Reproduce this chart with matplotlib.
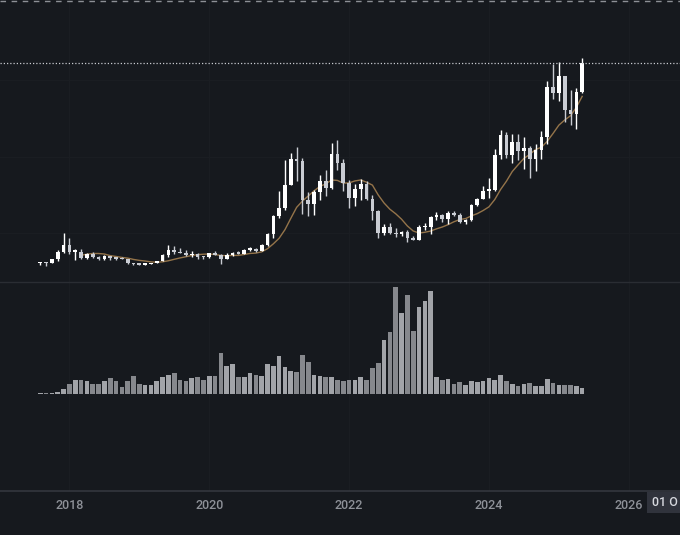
import matplotlib
matplotlib.use("Agg")
import matplotlib.pyplot as plt
from matplotlib.lines import Line2D
from matplotlib.patches import Rectangle
import numpy as np
import pandas as pd

# monthly candles, Aug 2017 .. May 2025 (last one still open)
months = pd.period_range("2017-08", "2025-05", freq="M")

opens = [4261, 4690, 4378, 6463, 9837,
         13715, 10285, 10325, 6922, 9246, 7500, 6391, 7735, 7011, 6626, 6369, 4041,
         3702, 3434, 3814, 4102, 5321, 8573, 10854, 10081, 9588, 8289, 9140, 7540,
         7195, 9351, 8523, 6412, 8620, 9448, 9138, 11335, 11649, 10776, 13791, 19695,
         28923, 33092, 45134, 58740, 57697, 37254, 35045, 41461, 47100, 43820, 61300, 56951,
         46216, 38466, 43160, 45510, 37630, 31802, 19942, 23297, 20048, 19422, 20491, 17165,
         16541, 23125, 23141, 28466, 29233, 27210, 30472, 29232, 25941, 26962, 34640, 37723,
         42283, 42580, 61131, 71280, 60672, 67540, 62772, 64629, 58974, 63327, 70215, 96407,
         93576, 102429, 84349, 82548, 94172]
highs = [4745, 4939, 6498, 11300, 19798,
         17176, 11786, 11704, 9759, 10020, 7786, 8491, 7750, 7410, 7680, 6615, 4313,
         4140, 4200, 4140, 5600, 9074, 13970, 13147, 12325, 10905, 10370, 9513, 7750,
         9578, 10500, 9188, 9460, 10067, 10380, 11444, 12468, 12050, 14100, 19863, 29300,
         41950, 58352, 61844, 64854, 59592, 41330, 42448, 50500, 52920, 67000, 69000, 59054,
         47990, 45821, 48190, 47444, 40023, 31982, 24668, 25211, 22799, 21085, 21480, 18387,
         23960, 25250, 29184, 30999, 29820, 31431, 31804, 30244, 27488, 35198, 38450, 44700,
         48969, 63913, 73777, 72797, 71979, 71948, 70079, 65659, 66498, 73620, 99588, 108353,
         109588, 102500, 95000, 95758, 111600]
lows = [3400, 2817, 4110, 5325, 9600,
        9035, 6000, 6600, 6430, 7032, 5750, 6070, 5880, 6111, 6205, 3652, 3156,
        3349, 3401, 3759, 4067, 5300, 7447, 9077, 9320, 7710, 7300, 6515, 6435,
        6871, 8445, 3782, 6150, 8117, 8833, 8893, 10518, 9825, 10374, 13195, 17572,
        28130, 32296, 44950, 47044, 30000, 28805, 29278, 37332, 39600, 43283, 53256, 42000,
        32917, 34322, 37155, 37578, 26700, 17622, 18782, 19520, 18125, 18190, 15476, 16256,
        16499, 21351, 19549, 26942, 25811, 24800, 28861, 25166, 24901, 26538, 34097, 37615,
        38555, 41884, 59005, 59191, 56552, 58402, 53485, 49000, 52550, 58946, 66835, 90500,
        89256, 78258, 76606, 74508, 93377]
closes = [4724, 4378, 6463, 9839, 13716,
          10285, 10326, 6923, 9246, 7494, 6391, 7730, 7011, 6626, 6371, 4041, 3742,
          3434, 3813, 4103, 5320, 8574, 10854, 10080, 9588, 8289, 9140, 7541, 7195,
          9352, 8523, 6410, 8620, 9448, 9138, 11335, 11649, 10776, 13791, 19695, 28923,
          33092, 45135, 58740, 57694, 37253, 35045, 41461, 47101, 43824, 61300, 56950, 46216,
          38466, 43160, 45510, 37630, 31801, 19942, 23293, 20050, 19423, 20490, 17164, 16542,
          23125, 23141, 28465, 29233, 27210, 30472, 29232, 25941, 26962, 34639, 37723, 42284,
          42580, 61130, 71280, 60672, 67540, 62772, 64628, 58974, 63327, 70215, 96408, 93576,
          102429, 84349, 82548, 94172, 109300]
# volume in thousand BTC
volumes = [124, 124, 124, 190, 475,
           950, 1330, 1330, 1264, 1017, 1017, 1235, 1587, 1264, 694, 1302, 1739,
           1017, 922, 855, 1264, 1644, 1805, 2024, 1330, 1264, 1549, 1644, 1397,
           1777, 1710, 3962, 2660, 2879, 1644, 1644, 2024, 1872, 1710, 2879, 2660,
           3639, 2632, 2252, 2119, 3734, 3069, 1834, 1739, 1615, 1682, 1397, 1302,
           1397, 1397, 1615, 1397, 2537, 2945, 5197, 5890, 10165, 7724, 9472, 6014,
           8294, 8902, 9814, 1682, 1397, 1454, 979, 1169, 922, 1235, 1140, 1302,
           1549, 1330, 1834, 1302, 979, 760, 979, 1074, 827, 827, 1454, 1074,
           922, 922, 922, 827, 570]

years = [2018, 2020, 2022, 2024, 2026]

df = pd.DataFrame({"open": opens, "high": highs, "low": lows,
                   "close": closes, "volume": volumes}, index=months)
df["ma"] = df["close"].rolling(8).mean()

x = np.arange(len(df))
up = df["close"] >= df["open"]

bg = "#16191e"
grid = "#1a1d22"
up_col = "#ffffff"
down_col = "#c9ccd3"

fig = plt.figure(figsize=(6.8, 5.35), dpi=100, facecolor=bg)
ax = fig.add_axes([0, 253.3 / 535, 1, 281.7 / 535])
vax = fig.add_axes([0, 44.3 / 535, 1, 209 / 535], sharex=ax)

for a in (ax, vax):
    a.set_facecolor(bg)
    for s in a.spines.values():
        s.set_visible(False)
    a.tick_params(left=False, right=False, labelleft=False, length=0)

# year grid
first = months[0]
year_pos = [(pd.Period(f"{y}-01", freq="M") - first).n for y in years]
for a in (ax, vax):
    for p in year_pos:
        a.axvline(p, color=grid, lw=1, zorder=0)
for level in [20000, 60000, 100000]:
    ax.axhline(level, color=grid, lw=1, zorder=0)

# moving average
ax.plot(x, df["ma"], color="#94744a", lw=1.0, zorder=1)

# candles
colors = [up_col if u else down_col for u in up]
ax.vlines(x, df["low"], df["high"], colors=colors, lw=1, zorder=2)
body_lo = np.minimum(df["open"], df["close"])
body_h = np.maximum((df["close"] - df["open"]).abs(), 700)
ax.bar(x, body_h, bottom=body_lo, width=0.63, color=colors, lw=0, zorder=3)

# last price line
ax.axhline(df["close"].iloc[-1], color="#c8cad0", lw=0.9, ls=(0, (1, 1.6)), zorder=4)

ax.set_ylim(-5500, 142140)
ax.set_xlim(-6.91, 109.79)
ax.tick_params(bottom=False, labelbottom=False)

# volume
vcolors = ["#a2a4a9" if u else "#86888d" for u in up]
vax.bar(x, df["volume"], width=0.8, color=vcolors, lw=0)
vax.set_ylim(-96.4 * 95, 112.6 * 95)

vax.set_xticks(year_pos)
vax.set_xticklabels([str(y) for y in years])
vax.tick_params(axis="x", colors="#8e9198", pad=6, labelsize=9)
for t in vax.get_xticklabels():
    t.set_fontfamily("Roboto")
    t.set_fontweight("medium")

# pane separator, time axis line and top dashed line
fig.add_artist(Line2D([0, 1], [1 - 281.7 / 535] * 2, color="#2a2d33", lw=1))
fig.add_artist(Line2D([0, 1], [44.3 / 535] * 2, color="#34373e", lw=1.2))
fig.add_artist(Line2D([0, 1], [1 - 0.8 / 535] * 2, color="#8d9096", lw=1, ls=(0, (4, 4))))

# date label on the time axis
fig.add_artist(Rectangle((646.7 / 680, (535 - 512.7) / 535), 40 / 680, 21 / 535,
                         transform=fig.transFigure, color="#30333c", lw=0))
fig.text(652.5 / 680, (535 - 503) / 535, "01 O", color="#d6d8de", fontsize=9,
         family="Roboto", fontweight="medium", va="center", ha="left")

plt.savefig("out.png", dpi=100, facecolor=bg)
